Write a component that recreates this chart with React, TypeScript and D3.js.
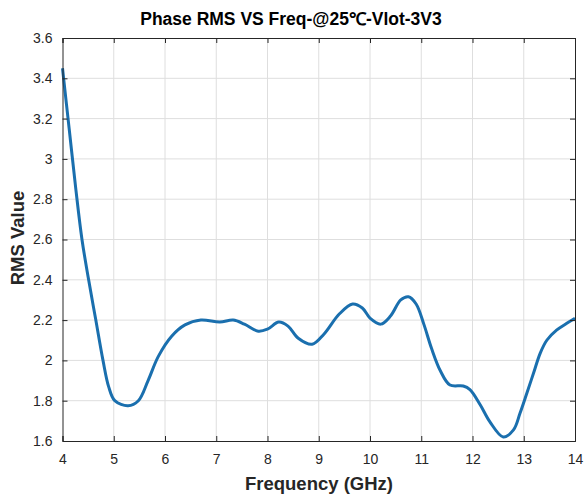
import { useRef, useEffect } from "react";
import * as d3 from "d3";

// frequency (GHz) and RMS value
const freq = [4.0, 4.13, 4.26, 4.38, 4.51, 4.65, 4.79, 4.9, 5.02, 5.28, 5.48, 5.67, 5.87, 6.13, 6.39, 6.7, 7.07, 7.33, 7.55, 7.82, 8.0, 8.22, 8.4, 8.6, 8.87, 9.1, 9.4, 9.66, 9.85, 10.0, 10.21, 10.4, 10.6, 10.75, 10.9, 11.05, 11.2, 11.37, 11.56, 11.82, 11.95, 12.15, 12.34, 12.6, 12.8, 12.93, 13.06, 13.19, 13.32, 13.45, 13.64, 13.84, 14.0];
const rms = [3.45, 3.15, 2.85, 2.6, 2.4, 2.2, 2.0, 1.87, 1.8, 1.775, 1.8, 1.9, 2.02, 2.12, 2.176, 2.2, 2.19, 2.2, 2.18, 2.145, 2.155, 2.19, 2.17, 2.11, 2.08, 2.13, 2.23, 2.28, 2.26, 2.21, 2.18, 2.22, 2.3, 2.316, 2.28, 2.18, 2.06, 1.95, 1.878, 1.873, 1.855, 1.78, 1.695, 1.62, 1.655, 1.74, 1.837, 1.936, 2.035, 2.1, 2.15, 2.184, 2.209];

const xTicks = [4, 5, 6, 7, 8, 9, 10, 11, 12, 13, 14];
const yTicks = [1.6, 1.8, 2, 2.2, 2.4, 2.6, 2.8, 3, 3.2, 3.4, 3.6];

function App() {
    const ref = useRef(null);

    useEffect(() => {
        const svg = d3.select(ref.current);
        svg.selectAll("*").remove();

        const left = 62.5, right = 575, top = 38, bottom = 441;
        const x = d3.scaleLinear().domain([4, 14]).range([left, right]);
        const y = d3.scaleLinear().domain([1.6, 3.6]).range([bottom, top]);
        const axisColor = "#262626";
        const font = "Arial, 'Liberation Sans', sans-serif";

        svg.append("rect").attr("width", 584).attr("height", 497).attr("fill", "#fff");

        // grid
        svg.append("g").selectAll("line").data(xTicks.slice(1, -1)).enter().append("line")
            .attr("x1", (d) => x(d)).attr("x2", (d) => x(d))
            .attr("y1", top).attr("y2", bottom)
            .attr("stroke", "#dedede").attr("stroke-width", 1);
        svg.append("g").selectAll("line").data(yTicks.slice(1, -1)).enter().append("line")
            .attr("x1", left).attr("x2", right)
            .attr("y1", (d) => y(d)).attr("y2", (d) => y(d))
            .attr("stroke", "#dedede").attr("stroke-width", 1);

        // data line
        const line = d3.line()
            .x((d, i) => x(freq[i]))
            .y((d, i) => y(rms[i]))
            .curve(d3.curveCatmullRom.alpha(0.5));
        svg.append("path")
            .datum(rms)
            .attr("d", line)
            .attr("fill", "none")
            .attr("stroke", "#1a6fae")
            .attr("stroke-width", 3)
            .attr("stroke-linejoin", "round");

        // axes (ticks inward, box on)
        const tl = 5;
        const gx = svg.append("g").attr("transform", "translate(0," + bottom + ")")
            .call(d3.axisBottom(x).tickValues(xTicks).tickSize(-tl).tickPadding(13).tickFormat(d3.format("d")));
        const gxt = svg.append("g").attr("transform", "translate(0," + top + ")")
            .call(d3.axisTop(x).tickValues(xTicks).tickSize(-tl).tickFormat(() => ""));
        const gy = svg.append("g").attr("transform", "translate(" + left + ",0)")
            .call(d3.axisLeft(y).tickValues(yTicks).tickSize(-tl).tickPadding(10).tickFormat((d) => String(+d.toFixed(1))));
        const gyr = svg.append("g").attr("transform", "translate(" + right + ",0)")
            .call(d3.axisRight(y).tickValues(yTicks).tickSize(-tl).tickFormat(() => ""));
        [gx, gxt, gy, gyr].forEach((g) => {
            g.select(".domain").attr("stroke", axisColor).attr("stroke-width", 1);
            g.selectAll(".tick line").attr("stroke", axisColor);
            g.selectAll("text").attr("fill", axisColor).style("font-family", font).style("font-size", "14px");
        });

        // title and labels
        svg.append("text")
            .attr("x", 291).attr("y", 25)
            .attr("text-anchor", "middle")
            .style("font-family", font).style("font-weight", "bold").style("font-size", "17.5px")
            .attr("fill", "#000")
            .text("Phase RMS VS Freq-@25℃-Vlot-3V3");
        svg.append("text")
            .attr("x", 319).attr("y", 490)
            .attr("text-anchor", "middle")
            .style("font-family", font).style("font-weight", "bold").style("font-size", "18.5px")
            .attr("fill", axisColor)
            .text("Frequency (GHz)");
        svg.append("text")
            .attr("transform", "translate(24,238) rotate(-90)")
            .attr("text-anchor", "middle")
            .style("font-family", font).style("font-weight", "bold").style("font-size", "18.5px")
            .attr("fill", axisColor)
            .text("RMS Value");
    }, []);

    return (
        <svg
            ref={ref}
            width="584"
            height="497"
            style={{ position: "absolute", left: 0, top: 0 }}
        />
    );
}

export default App;
